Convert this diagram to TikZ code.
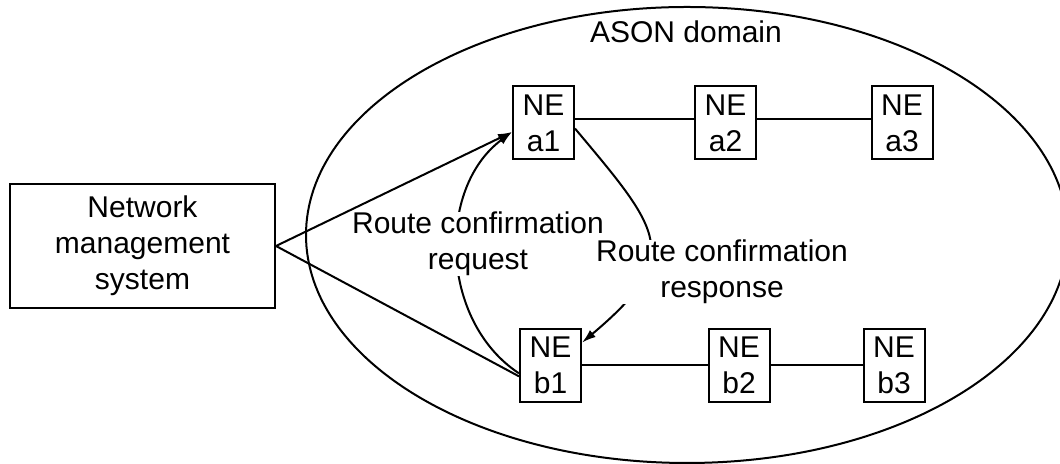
\documentclass[tikz,border=0pt]{standalone}
\usepackage{fontspec}
\setmainfont{Liberation Sans}
\usetikzlibrary{arrows.meta}

\tikzset{ne/.style={draw,line width=1pt,minimum width=30.5pt,minimum height=36.5pt,
                    inner sep=0pt,align=center},
         nms/.style={draw,line width=1pt,minimum width=132.5pt,minimum height=62pt,
                     inner sep=0pt,align=center},
         msg/.style={fill=white,inner sep=0pt,align=center},
         link/.style={line width=1pt},
         sig/.style={line width=1pt,-{Latex[length=7pt,width=4.5pt]}}}

\begin{document}
\begin{tikzpicture}[x=0.5pt,y=0.5pt,font=\fontsize{15}{18}\selectfont]
 \useasboundingbox (0,0) rectangle (1060,464);
 % domain
 \draw[link] (687,229) ellipse [x radius=381,y radius=228];
 \node[anchor=base] (ason) at (686,421) {ASON domain};
 % network elements
 \node[ne] (a1) at (543.5,341) {NE\\a1};
 \node[ne] (a2) at (725.5,341) {NE\\a2};
 \node[ne] (a3) at (902,341) {NE\\a3};
 \node[ne] (b1) at (550.5,98.5) {NE\\b1};
 \node[ne] (b2) at (739,98.5) {NE\\b2};
 \node[ne] (b3) at (894,98.5) {NE\\b3};
 \draw[link] (a1.8) -- (a2.172) (a2.8) -- (a3.172);
 \draw[link] (b1) -- (b2) (b2) -- (b3);
 % route confirmation
 \draw[sig] (b1.194) to[bend left=55] (a1.196);
 \draw[sig] (a1.-10) to[out=-50,in=40,looseness=1.6] (b1.36);
 \node[msg] (req) at (478,219.8) {Route confirmation\\request};
 \node[msg] (resp) at (722,191.8) {Route confirmation\\response};
 % management
 \node[nms] (nms) at (142.5,218) {Network\\management\\system};
 \draw[sig] (nms.east) -- (a1.196);
 \draw[link] (nms.east) -- (b1.199);
\end{tikzpicture}
\end{document}
